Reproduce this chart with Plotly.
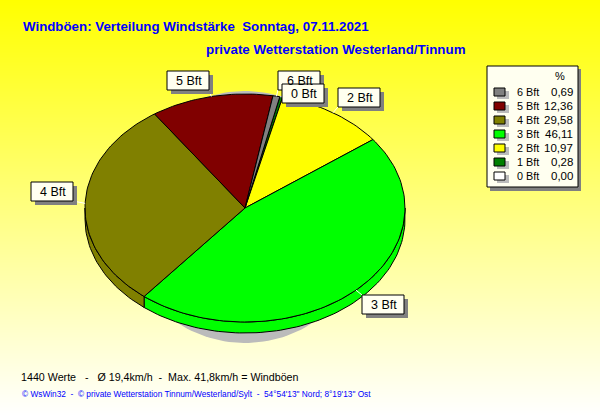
import math
import numpy as np
import plotly.graph_objects as go

# ---- data ----
categories = ["0 Bft", "1 Bft", "2 Bft", "3 Bft", "4 Bft", "5 Bft", "6 Bft"]
shares = [0.00, 0.28, 10.97, 46.11, 29.58, 12.36, 0.69]
share_labels = ["0,00", "0,28", "10,97", "46,11", "29,58", "12,36", "0,69"]
colors = ["#FFFFFF", "#007F00", "#FFFF00", "#00FF00", "#808000", "#800000", "#808080"]
legend_order = ["6 Bft", "5 Bft", "4 Bft", "3 Bft", "2 Bft", "1 Bft", "0 Bft"]
title_1 = "Windböen: Verteilung Windstärke\u00a0\u00a0Sonntag, 07.11.2021"
title_2 = "private Wetterstation Westerland/Tinnum"
foot_1 = "1440 Werte\u00a0\u00a0\u00a0-\u00a0\u00a0\u00a0Ø 19,4km/h\u00a0\u00a0-\u00a0\u00a0Max. 41,8km/h = Windböen"
foot_2 = "© WsWin32\u00a0\u00a0-\u00a0\u00a0© private Wetterstation Tinnum/Westerland/Sylt\u00a0\u00a0-\u00a0\u00a054°54'13\" Nord; 8°19'13\" Ost"
# label boxes: category -> (left, top)
label_boxes = {"5 Bft": (167, 71), "6 Bft": (278, 71), "0 Bft": (282, 84),
               "2 Bft": (338, 88), "4 Bft": (31, 182), "3 Bft": (362, 295)}

# ---- geometry / style ----
CX, CY, RX, RY, DEPTH = 245, 208, 160, 114, 11
START = 12.6
FONT = "Liberation Sans"
BOX_W, BOX_H = 42, 19
CREAM = "#FFFFF0"
SHADOW = "#BBBBBB"


def pt(a, dy=0):
    r = math.radians(a)
    return CX + RX * math.sin(r), CY - RY * math.cos(r) + dy


def arc(a0, a1, dy=0):
    n = max(2, int(abs(a1 - a0) / 1.5) + 2)
    return [pt(a, dy) for a in np.linspace(a0, a1, n)]


def poly(points, fill, line="black", width=1):
    xs = [p[0] for p in points]
    ys = [p[1] for p in points]
    return go.Scatter(x=xs, y=ys, mode="lines", fill="toself", fillcolor=fill,
                      line=dict(color=line, width=width), hoverinfo="skip", showlegend=False)


fig = go.Figure()
fig.add_trace(go.Heatmap(x=[0, 600], y=[0, 415], z=[[0, 0], [1, 1]], zsmooth="best",
                         colorscale=[[0, "#FFFF00"], [1, "#FFFFFF"]], showscale=False,
                         hoverinfo="skip"))

# shadow
sh = [(CX + 125 * math.cos(t), 217 + 126 * math.sin(t)) for t in np.linspace(0, 2 * math.pi, 160)]
fig.add_trace(poly(sh, SHADOW, line=SHADOW, width=0))

# slices
angles = [START]
for s in shares:
    angles.append(angles[-1] + s * 3.6)

# side wall (front half only)
for i, c in enumerate(colors):
    a0, a1 = max(angles[i], 90), min(angles[i + 1], 270)
    if a1 > a0:
        fig.add_trace(poly(arc(a0, a1) + arc(a1, a0, DEPTH) + [pt(a0)], c))

# top face
for i, c in enumerate(colors):
    if shares[i] > 0:
        fig.add_trace(poly([(CX, CY)] + arc(angles[i], angles[i + 1]) + [(CX, CY)], c))

shapes = []
annotations = []


def rect(x0, y0, x1, y1, fill, line=None):
    shapes.append(dict(type="rect", xref="x", yref="y", x0=x0, y0=y0, x1=x1, y1=y1,
                       fillcolor=fill, line=dict(color=line or fill, width=1 if line else 0),
                       layer="above"))


def text(x, y, s, size, color="black", anchor="left", bold=False, spacing=None):
    if bold:
        s = "<b>" + s + "</b>"
    annotations.append(dict(x=x, y=y, xref="x", yref="y", text=s, showarrow=False,
                            xanchor=anchor, yanchor="middle",
                            font=dict(family=FONT, size=size, color=color),
                            borderpad=0, borderwidth=0))


# leader lines + label boxes
for i, cat in enumerate(categories):
    if cat not in label_boxes:
        continue
    left, top = label_boxes[cat]
    mid = (angles[i] + angles[i + 1]) / 2
    ex, ey = pt(mid)
    bx = min(max(ex, left), left + BOX_W)
    by = min(max(ey, top), top + BOX_H)
    shapes.append(dict(type="line", xref="x", yref="y", x0=ex, y0=ey, x1=bx, y1=by,
                       line=dict(color="white", width=1), layer="above"))
for cat in ["5 Bft", "6 Bft", "0 Bft", "2 Bft", "4 Bft", "3 Bft"]:
    left, top = label_boxes[cat]
    rect(left + 4, top + 4, left + BOX_W + 4, top + BOX_H + 4, "#808080")
    rect(left, top, left + BOX_W, top + BOX_H, CREAM, "black")
    text(left + BOX_W / 2 + 1, top + BOX_H / 2 + 0.5, cat, 12.5, anchor="center")

# legend
rect(490, 69, 581, 191, "#808080")
rect(487, 66, 578, 187, CREAM, "black")
text(560, 76, "%", 11, anchor="center")
for r, cat in enumerate(legend_order):
    y = 92 + 14 * r
    i = categories.index(cat)
    rect(497, y - 1, 509, y + 7, SHADOW)
    rect(494, y - 4, 505, y + 4, colors[i], "black")
    text(517, y, cat, 10.8)
    text(573, y, share_labels[i], 11.5, anchor="right")

# titles and footers
text(23, 26, title_1, 13.3, "#0000FF", bold=True)
text(206, 49, title_2, 13.35, "#0000FF", bold=True)
text(21, 377, foot_1, 10.7)
text(22, 394, foot_2, 8.3, "#0000FF")

fig.update_layout(
    width=600, height=415, margin=dict(l=0, r=0, t=0, b=0), autosize=False,
    xaxis=dict(range=[0, 600], visible=False, domain=[0, 1], fixedrange=True),
    yaxis=dict(range=[415, 0], visible=False, domain=[0, 1], fixedrange=True),
    shapes=shapes, annotations=annotations, paper_bgcolor="white", plot_bgcolor="white",
    showlegend=False,
)
fig.write_html("out.html", config=dict(displayModeBar=False),
               post_script="document.body.style.margin='0';document.documentElement.style.overflow='hidden';")
